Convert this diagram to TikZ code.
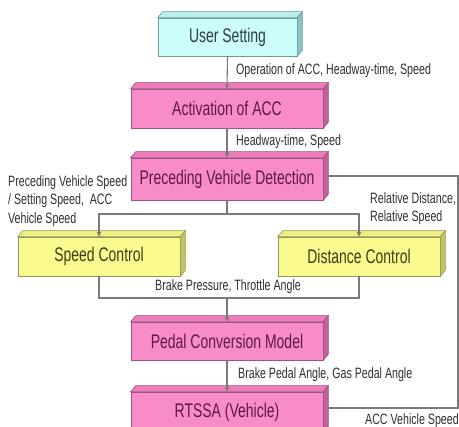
\documentclass[tikz,border=0pt]{standalone}
\usepackage{fontspec}
\setmainfont{Liberation Sans}[FakeStretch=0.71]
\usetikzlibrary{arrows.meta}

\definecolor{cyanfront}{HTML}{CCFCFC}
\definecolor{cyantop}{HTML}{B8EEEE}
\definecolor{cyanside}{HTML}{88C4C4}
\definecolor{cyanedge}{HTML}{6E9A9A}
\definecolor{cyantext}{HTML}{2E3E46}
\definecolor{pinkfront}{HTML}{F88CC8}
\definecolor{pinktop}{HTML}{EC7CBA}
\definecolor{pinkside}{HTML}{C2609A}
\definecolor{pinkedge}{HTML}{A05282}
\definecolor{pinktext}{HTML}{5E1846}
\definecolor{yelfront}{HTML}{FAFA8E}
\definecolor{yeltop}{HTML}{EEEE7E}
\definecolor{yelside}{HTML}{C4C45E}
\definecolor{yeledge}{HTML}{94945E}
\definecolor{yeltext}{HTML}{3C3C18}
\definecolor{wire}{HTML}{7A7A7A}
\definecolor{labeltext}{HTML}{303030}

% top and right faces of an extruded block: node, top colour, side colour, edge colour
\newcommand\extrude[4]{%
  \filldraw[fill=#2, draw=#4, line width=0.6pt]
    (#1.north west) -- ++(5pt,6pt) -- ([shift={(5pt,6pt)}]#1.north east) -- (#1.north east) -- cycle;
  \filldraw[fill=#3, draw=#4, line width=0.6pt]
    (#1.north east) -- ++(5pt,6pt) -- ([shift={(5pt,6pt)}]#1.south east) -- (#1.south east) -- cycle;
}

\tikzset{
  block/.style={draw, line width=0.6pt, inner sep=0pt,
    font=\fontsize{19.7}{22}\selectfont},
  cyanblock/.style={block, fill=cyanfront, draw=cyanedge, text=cyantext},
  pinkblock/.style={block, fill=pinkfront, draw=pinkedge, text=pinktext},
  yelblock/.style={block, fill=yelfront, draw=yeledge, text=yeltext},
  wireline/.style={draw=wire, line width=1.1pt},
  flow/.style={wireline, -{Stealth[length=5pt,width=4.5pt]}},
  lbl/.style={inner sep=0pt, text=labeltext, font=\fontsize{15}{18.5}\selectfont},
}

\begin{document}
\begin{tikzpicture}[x=1pt, y=-1pt]
\useasboundingbox (0,0) rectangle (459,427);
\clip (0,0) rectangle (459,427);
\fill[white] (0,0) rectangle (459,427);

% blocks (front faces)
\node[cyanblock, minimum width=139pt, minimum height=38pt] (us)  at (227.5,37)  {User Setting};
\node[pinkblock, minimum width=192pt, minimum height=39pt] (aa)  at (227,108.5) {Activation of ACC};
\node[pinkblock, minimum width=192pt, minimum height=42pt] (pvd) at (227,179)   {Preceding Vehicle Detection};
\node[yelblock,  minimum width=162pt, minimum height=39pt] (sc)  at (99,256.5)  {Speed Control};
\node[yelblock,  minimum width=162pt, minimum height=39pt] (dc)  at (359,256.5) {Distance Control};
\node[pinkblock, minimum width=192pt, minimum height=38pt] (pcm) at (227,341)   {Pedal Conversion Model};
\node[pinkblock, minimum width=192pt, minimum height=40pt] (rt)  at (227,412)   {RTSSA (Vehicle)};

\extrude{us}{cyantop}{cyanside}{cyanedge}
\extrude{aa}{pinktop}{pinkside}{pinkedge}
\extrude{pvd}{pinktop}{pinkside}{pinkedge}
\extrude{sc}{yeltop}{yelside}{yeledge}
\extrude{dc}{yeltop}{yelside}{yeledge}
\extrude{pcm}{pinktop}{pinkside}{pinkedge}
\extrude{rt}{pinktop}{pinkside}{pinkedge}

% main flow
\draw[flow] (us.south) -- (aa.north);
\draw[flow] (aa.south) -- (pvd.north);

\coordinate (split) at (227,214);
\draw[wireline] (pvd.south) -- (split);
\draw[flow] (split) -| (sc.north);
\draw[flow] (split) -| (dc.north);

\coordinate (merge) at (227,298);
\draw[wireline] (sc.south) -- (sc.south |- merge) -- (dc.south |- merge) -- (dc.south);
\draw[flow] (merge) -- (pcm.north);
\draw[flow] (pcm.south) -- (rt.north);

% feedback of the vehicle speed
\coordinate (loop) at (458,408);
\draw[wireline] ([shift={(5pt,4pt)}]rt.east) -- (loop) |- ([shift={(5pt,3pt)}]pvd.east);

% signal labels
\node[lbl, anchor=west] (l1) at (236,71)  {Operation of ACC, Headway-time, Speed};
\node[lbl, anchor=west] (l2) at (236,142) {Headway-time, Speed};
\node[lbl, anchor=west, align=left] (l3) at (8,201)
  {Preceding Vehicle Speed\\/ Setting Speed,\ \ ACC\\Vehicle Speed};
\node[lbl, anchor=west, align=left] (l4) at (370,208.5) {Relative Distance,\\Relative Speed};
\node[lbl] (l5) at (228,287) {Brake Pressure, Throttle Angle};
\node[lbl, anchor=west] (l6) at (238,375) {Brake Pedal Angle, Gas Pedal Angle};
\node[lbl, anchor=west] (l7) at (365,421) {ACC Vehicle Speed};
\end{tikzpicture}
\end{document}
